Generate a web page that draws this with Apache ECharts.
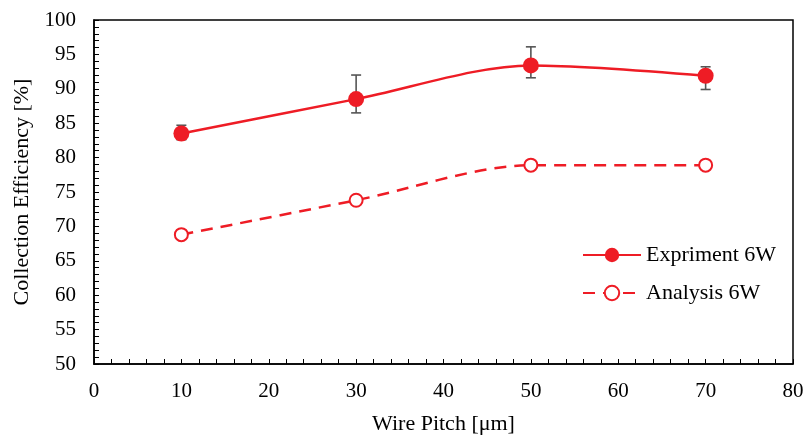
<!DOCTYPE html>
<html>
<head>
<meta charset="utf-8">
<script src="https://cdn.jsdelivr.net/npm/echarts@6/dist/echarts.min.js"></script>
<style>
  html, body { margin: 0; padding: 0; background: #fff; }
  #chart { width: 805px; height: 437px; }
</style>
</head>
<body>
<div id="chart"></div>
<script>
// values
var pitch = [10, 30, 50, 70];
var experiment = [83.5, 88.5, 93.4, 91.9];
var errLow = [82.6, 86.5, 91.6, 89.9];
var errHigh = [84.7, 92.0, 96.1, 93.2];
var analysis = [68.8, 73.8, 78.9, 78.9];

var red = '#ee1c25';
var font = '"Liberation Serif", "Times New Roman", serif';

var myChart = echarts.init(document.getElementById('chart'));

var expData = pitch.map(function (p, i) { return [p, experiment[i]]; });
var anaData = pitch.map(function (p, i) { return [p, analysis[i]]; });
var errData = pitch.map(function (p, i) { return [p, errLow[i], errHigh[i]]; });

var option = {
  animation: false,
  textStyle: { fontFamily: font },
  grid: {
    left: 94, right: 12, top: 20, bottom: 73,
    outerBoundsMode: 'none',
    containLabel: false,
    show: true, borderColor: '#000', borderWidth: 1.5
  },
  legend: {
    orient: 'vertical',
    left: 577,
    top: 239,
    itemWidth: 58,
    itemHeight: 18,
    itemGap: 16,
    textStyle: { fontFamily: font, fontSize: 22, color: '#000' },
    data: ['Expriment 6W', 'Analysis 6W']
  },
  xAxis: {
    type: 'value',
    min: 0, max: 80, interval: 10,
    name: 'Wire Pitch [μm]',
    nameLocation: 'middle',
    nameGap: 49,
    nameTextStyle: { fontFamily: font, fontSize: 22, color: '#000' },
    axisLine: { lineStyle: { color: '#000', width: 1.5 } },
    axisTick: { inside: true, length: 5, lineStyle: { color: '#000' } },
    minorTick: { show: true, splitNumber: 5, length: 5, lineStyle: { color: '#000' } },
    axisLabel: { fontFamily: font, fontSize: 21, color: '#000', margin: 17 },
    splitLine: { show: false }
  },
  yAxis: {
    type: 'value',
    min: 50, max: 100, interval: 5,
    name: 'Collection Efficiency [%]',
    nameLocation: 'middle',
    nameGap: 61,
    nameTextStyle: { fontFamily: font, fontSize: 22, color: '#000' },
    axisLine: { show: true, lineStyle: { color: '#000', width: 1.5 } },
    axisTick: { show: true, inside: true, length: 5, lineStyle: { color: '#000' } },
    minorTick: { show: true, splitNumber: 5, length: 5, lineStyle: { color: '#000' } },
    axisLabel: { fontFamily: font, fontSize: 21, color: '#000', margin: 18 },
    splitLine: { show: false }
  },
  series: [
    {
      name: 'errorbars',
      type: 'custom',
      z: 1,
      data: errData,
      renderItem: function (params, api) {
        var x = api.value(0);
        var lo = api.coord([x, api.value(1)]);
        var hi = api.coord([x, api.value(2)]);
        var w = 5;
        var style = { stroke: '#555', lineWidth: 1.6 };
        return {
          type: 'group',
          children: [
            { type: 'line', shape: { x1: lo[0], y1: lo[1], x2: hi[0], y2: hi[1] }, style: style },
            { type: 'line', shape: { x1: lo[0] - w, y1: lo[1], x2: lo[0] + w, y2: lo[1] }, style: style },
            { type: 'line', shape: { x1: hi[0] - w, y1: hi[1], x2: hi[0] + w, y2: hi[1] }, style: style }
          ]
        };
      }
    },
    {
      name: 'Expriment 6W',
      type: 'line',
      z: 3,
      smooth: 0.3,
      data: expData,
      symbol: 'circle',
      symbolSize: 16,
      lineStyle: { color: red, width: 2.5 },
      itemStyle: { color: red, borderColor: red, borderWidth: 0 }
    },
    {
      name: 'Analysis 6W',
      type: 'line',
      z: 3,
      smooth: 0.3,
      data: anaData,
      symbol: 'circle',
      symbolSize: 13,
      lineStyle: { color: red, width: 2.5, type: [12, 8] },
      itemStyle: { color: '#fff', borderColor: red, borderWidth: 2 }
    }
  ]
};
myChart.setOption(option);
</script>
</body>
</html>
